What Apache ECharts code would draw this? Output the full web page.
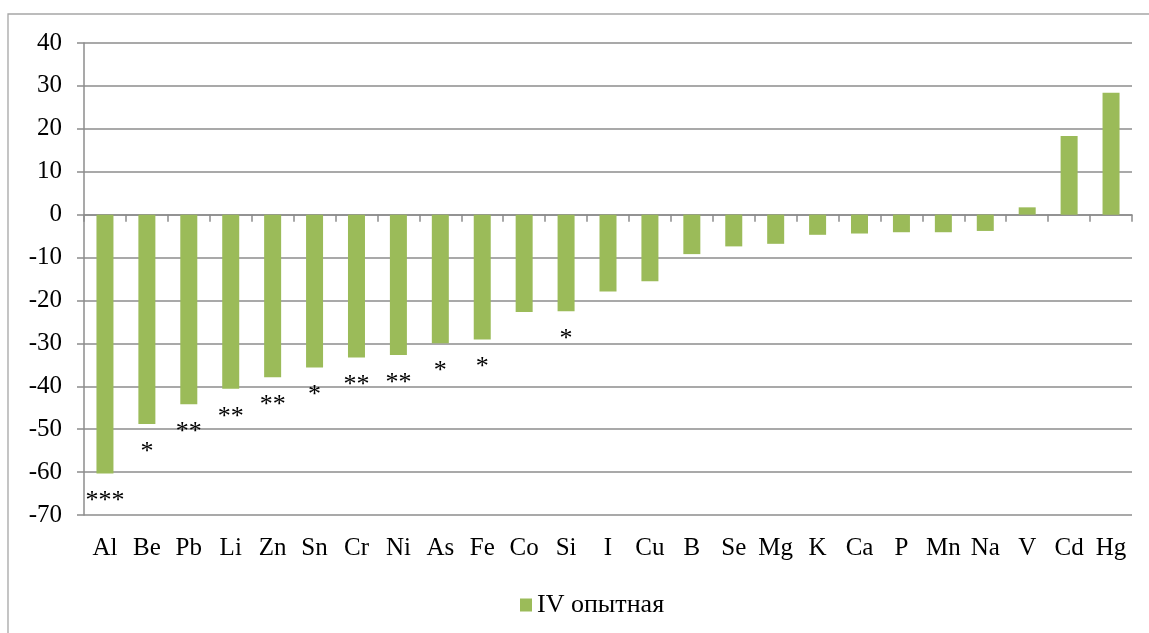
<!DOCTYPE html>
<html>
<head>
<meta charset="utf-8">
<script src="https://cdn.jsdelivr.net/npm/echarts@6/dist/echarts.min.js"></script>
<style>
html, body { margin: 0; padding: 0; background: #fff; }
#chart { width: 1149px; height: 633px; }
</style>
</head>
<body>
<div id="chart"></div>
<script>
const categories = ['Al', 'Be', 'Pb', 'Li', 'Zn', 'Sn', 'Cr', 'Ni', 'As', 'Fe', 'Co', 'Si', 'I', 'Cu', 'B', 'Se', 'Mg', 'K', 'Ca', 'P', 'Mn', 'Na', 'V', 'Cd', 'Hg'];
const values = [-60.3, -48.8, -44.2, -40.6, -37.9, -35.6, -33.3, -32.7, -30.0, -29.1, -22.7, -22.5, -17.9, -15.5, -9.2, -7.4, -6.8, -4.7, -4.4, -4.1, -4.1, -3.8, 1.7, 18.3, 28.4];
const significance = ['***', '*', '**', '**', '**', '*', '**', '**', '*', '*', '', '*', '', '', '', '', '', '', '', '', '', '', '', '', ''];
const seriesName = 'IV опытная';
const yMin = -70, yMax = 40, yStep = 10;

const FONT = "'Liberation Serif', 'Times New Roman', serif";
const GRID_COLOR = '#8c8c8c';

const chart = echarts.init(document.getElementById('chart'));
chart.setOption({
  animation: false,
  backgroundColor: '#fff',
  textStyle: { fontFamily: FONT, color: '#000' },
  graphic: [{
    type: 'rect',
    shape: { x: 8, y: 14, width: 1170, height: 660 },
    style: { fill: 'none', stroke: '#a6a6a6', lineWidth: 1.3 },
    z: -10
  }],
  grid: { left: 84, right: 17, top: 43, bottom: 118, containLabel: false },
  legend: {
    left: 515, top: 587,
    icon: 'rect', itemWidth: 12, itemHeight: 13,
    textStyle: { fontFamily: FONT, fontSize: 26, color: '#000' },
    data: [seriesName]
  },
  xAxis: [{
    type: 'category',
    data: categories,
    position: 'bottom',
    axisLine: { show: false, onZero: false },
    axisTick: { show: false },
    axisLabel: { fontFamily: FONT, fontSize: 25, color: '#000', margin: 21, interval: 0 },
    splitLine: { show: false }
  }, {
    type: 'category',
    data: categories,
    position: 'bottom',
    axisLine: { show: true, onZero: true, lineStyle: { color: GRID_COLOR, width: 1.5 } },
    axisTick: { show: true, length: 7, lineStyle: { color: GRID_COLOR, width: 1.5 } },
    axisLabel: { show: false },
    splitLine: { show: false }
  }],
  yAxis: {
    type: 'value',
    min: yMin, max: yMax, interval: yStep,
    axisLine: { show: true, lineStyle: { color: GRID_COLOR, width: 1.5 } },
    axisTick: { show: true, length: 7, lineStyle: { color: GRID_COLOR, width: 1.5 } },
    axisLabel: { fontFamily: FONT, fontSize: 25, color: '#000', margin: 22 },
    splitLine: { show: true, lineStyle: { color: GRID_COLOR, width: 1.5 } }
  },
  series: [{
    name: seriesName,
    type: 'bar',
    xAxisIndex: 0,
    barWidth: 17,
    itemStyle: { color: '#9BBB59' },
    label: {
      show: true,
      position: 'outside',
      distance: 15,
      fontFamily: FONT,
      fontSize: 26,
      color: '#000',
      formatter: p => significance[p.dataIndex]
    },
    data: values
  }]
});
</script>
</body>
</html>
